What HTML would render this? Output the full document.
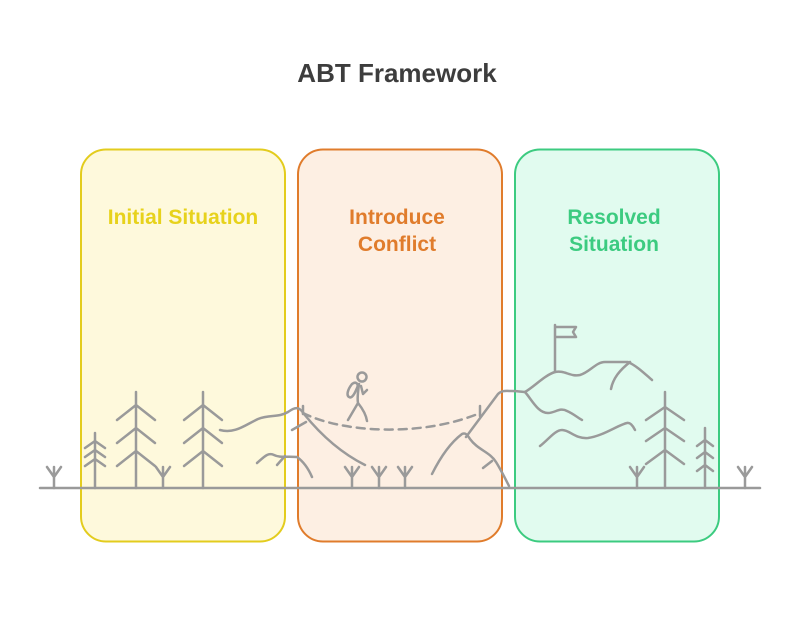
<!DOCTYPE html>
<html><head><meta charset="utf-8"><style>
html,body{margin:0;padding:0;background:#fff;}
svg{display:block;}
</style></head><body>
<svg width="800" height="637" viewBox="0 0 800 637" xmlns="http://www.w3.org/2000/svg" font-family="Liberation Sans, sans-serif">
<text x="397" y="82" text-anchor="middle" font-size="26" font-weight="bold" fill="#3d3d3d">ABT Framework</text>
<rect x="81" y="149.5" width="204" height="392" rx="25" fill="#fef9dc" stroke="#e3cc1e" stroke-width="2"/>
<rect x="298" y="149.5" width="204" height="392" rx="25" fill="#fdefe3" stroke="#e07c2c" stroke-width="2"/>
<rect x="515" y="149.5" width="204" height="392" rx="25" fill="#e1fbef" stroke="#3ccb80" stroke-width="2"/>
<g font-size="21" font-weight="bold" text-anchor="middle">
<text x="183" y="224" fill="#e7d21c">Initial Situation</text>
<text x="397" y="224" fill="#e07c2c">Introduce</text>
<text x="397" y="251" fill="#e07c2c">Conflict</text>
<text x="614" y="224" fill="#3ccb80">Resolved</text>
<text x="614" y="251" fill="#3ccb80">Situation</text>
</g>
<g fill="none" stroke="#9a9a9a" stroke-width="2.5" stroke-linecap="round" stroke-linejoin="round">
<line x1="40" y1="488" x2="760" y2="488"/>
<path d="M54 488V467M47 467L54 477L61 467"/>
<path d="M163 488V467M156 467L163 477L170 467"/>
<path d="M352 488V467M345 467L352 477L359 467"/>
<path d="M379 488V467M372 467L379 477L386 467"/>
<path d="M405 488V467M398 467L405 477L412 467"/>
<path d="M637 488V467M630 467L637 477L644 467"/>
<path d="M745 488V467M738 467L745 477L752 467"/>
<path d="M95 488V433M85 448L95 441L105 448M85 457L95 450L105 457M85 466L95 459L105 466"/>
<path d="M705 488V428M697 446L705 440L713 446M697 458L705 452L713 458M697 471L705 465L713 471"/>
<path d="M136 488V392M117 420L136 405L155 420M117 443L136 428L155 443M117 466L136 451L155 466"/>
<path d="M203 488V392M184 420L203 405L222 420M184 443L203 428L222 443M184 466L203 451L222 466"/>
<path d="M665 488V392M646 420L665 407L684 420M646 441L665 428L684 441M646 464L665 450L684 464"/>
<path d="M220 430C235 434 245 425 258 419C270 414 278 418 288 412C295 407 299 406 304 414C325 440 345 455 365 465"/>
<path d="M292 430L306 422"/>
<path d="M257 463C264 457 268 452 274 455C280 458 287 456 297 457C304 462 309 470 312 477"/>
<path d="M277 465L285 456"/>
<path d="M303 413C340 432 420 438 480 413" stroke-dasharray="8 6"/>
<path d="M303 406V414M480 406V416"/>
<path d="M432 474C440 458 450 443 462 434C466 432 468 436 470 439C478 450 490 452 496 462C501 470 505 478 509 486"/>
<path d="M483 468L492 461"/>
<path d="M466 437L498 394C502 390 506 391 512 391C518 391 522 392 525 392"/>
<path d="M525 392C535 386 545 375 555 372C565 370 570 377 580 375C590 372 596 362 605 362H628C637 366 645 374 652 380"/>
<path d="M630 362C620 370 613 378 611 389"/>
<path d="M525 392C532 400 538 413 548 413C555 413 560 407 567 411C574 414 578 418 582 420"/>
<path d="M540 446C548 440 555 430 562 430C570 430 575 439 588 438C603 436 618 425 627 423C631 422 634 428 635 430"/>
<path d="M555 372V325M555 327H576L573 332L576 337H555"/>
<circle cx="362" cy="377" r="4.5"/>
<path d="M352 384C348 389 346 395 349 397C352 399 355 393 357 388C359 384 356 381 352 384Z"/>
<path d="M359 384C358 392 357 398 358 403L348 420M358 403C362 408 366 414 367 421"/>
<path d="M361 386L363 394L367 390"/>
</g>
</svg>
</body></html>
